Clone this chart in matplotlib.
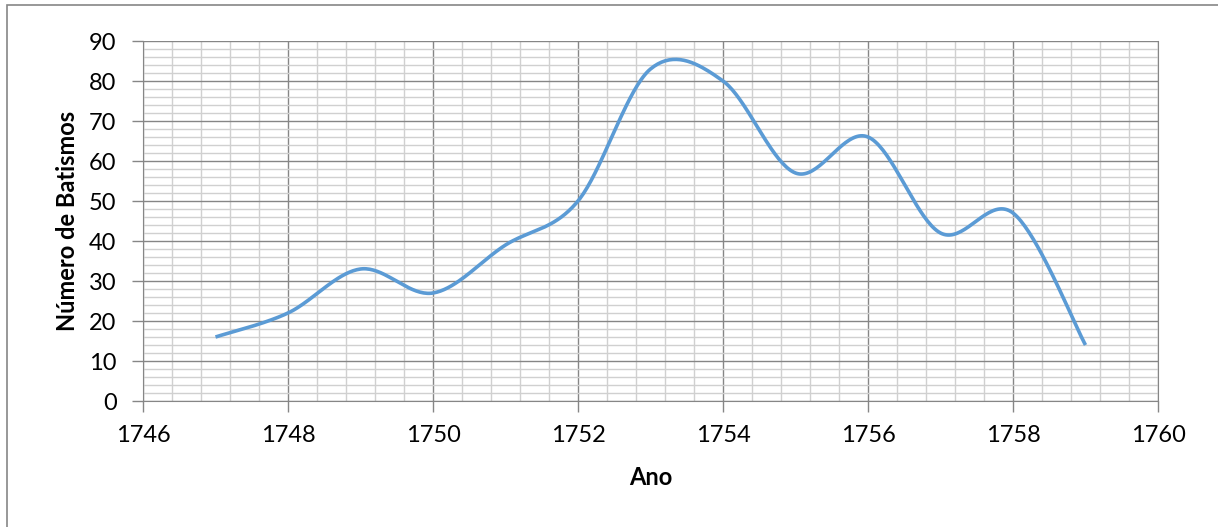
import numpy as np
import matplotlib.pyplot as plt
from matplotlib.patches import Rectangle
from matplotlib.ticker import MultipleLocator

# Batismos por ano
anos = [1747, 1748, 1749, 1750, 1751, 1752, 1753, 1754, 1755, 1756, 1757, 1758, 1759]
batismos = [16, 22, 33, 27, 39, 50, 83, 80, 57, 66, 42, 47, 14]


# Excel-like smoothed line (Catmull-Rom / Bezier)
def smooth(x, y, n=40):
    x = np.asarray(x, float)
    y = np.asarray(y, float)
    xs, ys = [], []
    for i in range(len(x) - 1):
        x0, y0 = (x[i - 1], y[i - 1]) if i > 0 else (x[i], y[i])
        x3, y3 = (x[i + 2], y[i + 2]) if i + 2 < len(x) else (x[i + 1], y[i + 1])
        c1 = (x[i] + (x[i + 1] - x0) / 6, y[i] + (y[i + 1] - y0) / 6)
        c2 = (x[i + 1] - (x3 - x[i]) / 6, y[i + 1] - (y3 - y[i]) / 6)
        t = np.linspace(0, 1, n)
        a, b, c, d = (1 - t) ** 3, 3 * t * (1 - t) ** 2, 3 * t ** 2 * (1 - t), t ** 3
        xs.append(a * x[i] + b * c1[0] + c * c2[0] + d * x[i + 1])
        ys.append(a * y[i] + b * c1[1] + c * c2[1] + d * y[i + 1])
    return np.concatenate(xs), np.concatenate(ys)


plt.rcParams['font.family'] = ['Lato', 'DejaVu Sans']

fig = plt.figure(figsize=(12.18, 5.27), dpi=100)
fig.patches.append(Rectangle((7 / 1218, -0.1), 1.2, 1 - 5 / 527 + 0.1, transform=fig.transFigure,
                             fill=False, edgecolor='#868686', linewidth=1.2))

ax = fig.add_axes([143 / 1218, 1 - 401 / 527, (1158 - 143) / 1218, (401 - 41) / 527])

sx, sy = smooth(anos, batismos)
ax.plot(sx, sy, color='#5b9bd5', linewidth=2.6, solid_capstyle='butt', zorder=3)

ax.set_xlim(1746, 1760)
ax.set_ylim(0, 90)
ax.xaxis.set_major_locator(MultipleLocator(2))
ax.xaxis.set_minor_locator(MultipleLocator(0.4))
ax.yaxis.set_major_locator(MultipleLocator(10))
ax.yaxis.set_minor_locator(MultipleLocator(2))

ax.grid(which='major', color='#868686', linewidth=1.0)
ax.grid(which='minor', color='#d0d0d0', linewidth=1.0)
ax.set_axisbelow(True)

for s in ax.spines.values():
    s.set_color('#868686')
ax.spines['top'].set_visible(False)

ax.tick_params(which='major', length=8, width=1, color='#868686', labelsize=17, pad=9)
ax.tick_params(axis='y', which='major', pad=11)
ax.tick_params(which='minor', length=0)

ax.set_xlabel('Ano', fontsize=17, fontweight='bold', labelpad=15)
ax.set_ylabel('Número de Batismos', fontsize=17, fontweight='bold', labelpad=7)

fig.savefig('out.png', dpi=100)
